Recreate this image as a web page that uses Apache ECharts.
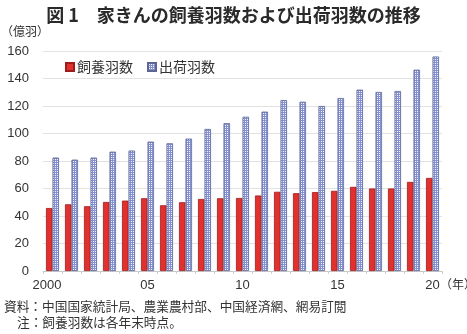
<!DOCTYPE html>
<html>
<head>
<meta charset="utf-8">
<script src="https://cdn.jsdelivr.net/npm/echarts@6/dist/echarts.min.js"></script>
<style>
  html, body { margin: 0; padding: 0; background: #fff; }
  #chart { width: 467px; height: 334px; }
</style>
</head>
<body>
<div id="chart"></div>
<script>
// Poultry: head kept (year-end stock) and head shipped, 100 million birds
const years = ['2000','2001','2002','2003','2004','2005','2006','2007','2008','2009',
               '2010','2011','2012','2013','2014','2015','2016','2017','2018','2019','2020'];
const stockHead = [45.8, 48.5, 47.1, 50.2, 51.2, 52.9, 47.8, 50.0, 52.4, 52.9,
                   53.1, 54.9, 57.6, 56.6, 57.4, 58.3, 61.2, 60.0, 60.0, 64.8, 67.7];
const shippedHead = [82.5, 81.0, 82.5, 86.8, 87.6, 94.1, 92.9, 96.3, 103.3, 107.5,
                     112.2, 115.9, 124.3, 123.1, 120.0, 125.8, 131.9, 130.2, 130.9, 146.4, 156.0];
const xTickLabels = { '2000': '2000', '2005': '05', '2010': '10', '2015': '15', '2020': '20' };

const jpFont = '"Noto Sans CJK JP", sans-serif';
const numFont = '"Liberation Sans", Arial, sans-serif';
const textColor = '#333';

// fine blue check texture for the shipment bars
const tile = document.createElement('canvas');
tile.width = 2; tile.height = 2;
const tctx = tile.getContext('2d');
tctx.fillStyle = '#f4f5fc';
tctx.fillRect(0, 0, 2, 2);
tctx.fillStyle = '#8390d2';
tctx.fillRect(0, 0, 2, 1);
tctx.fillRect(0, 0, 1, 2);

const chart = echarts.init(document.getElementById('chart'), null, { renderer: 'canvas' });
chart.setOption({
  animation: false,
  backgroundColor: '#fff',
  title: {
    text: '図 1　家きんの飼養羽数および出荷羽数の推移',
    left: 'center',
    top: 1,
    textStyle: { fontFamily: jpFont, fontSize: 18, fontWeight: 'bold', color: '#2a2a2a' }
  },
  legend: {
    left: 60,
    top: 55,
    itemWidth: 8,
    itemHeight: 8,
    itemGap: 14,
    icon: 'rect',
    textStyle: { fontFamily: jpFont, fontSize: 14, color: textColor, padding: [0, 0, 0, -2] },
    data: ['飼養羽数', '出荷羽数']
  },
  grid: { left: 43, right: 25, top: 51, bottom: 63 },
  xAxis: {
    type: 'category',
    data: years,
    axisLine: { lineStyle: { color: '#c8c8c8', width: 1 } },
    axisTick: { show: true, length: 3, lineStyle: { color: '#d0d0d0' } },
    axisLabel: {
      interval: 0,
      margin: 8,
      fontFamily: numFont,
      fontSize: 13,
      color: textColor,
      formatter: v => v === '2000' ? '{first|2000}' : (xTickLabels[v] || ''),
      rich: {
        first: { fontFamily: numFont, fontSize: 13, color: textColor, padding: [0, 11, 0, 0] }
      }
    }
  },
  yAxis: {
    type: 'value',
    min: 0,
    max: 160,
    interval: 20,
    axisLine: { show: false },
    axisTick: { show: false },
    splitLine: { lineStyle: { color: '#e2e2e2', width: 1 } },
    axisLabel: { margin: 14, fontFamily: numFont, fontSize: 13, color: textColor }
  },
  series: [
    {
      name: '飼養羽数',
      type: 'bar',
      data: stockHead,
      barWidth: 6.5,
      barGap: '0%',
      itemStyle: { color: '#e0312f', borderColor: '#9e1c1c', borderWidth: 0.8 }
    },
    {
      name: '出荷羽数',
      type: 'bar',
      data: shippedHead,
      barWidth: 6.5,
      barGap: '0%',
      itemStyle: { color: { image: tile, repeat: 'repeat' }, borderColor: '#5d6693', borderWidth: 0.8 }
    }
  ],
  graphic: [
    { type: 'text', left: 1, top: 25,
      style: { text: '（億羽）', font: '12px ' + jpFont, fill: textColor } },
    { type: 'text', left: 440, top: 278,
      style: { text: '（年）', font: '12px ' + jpFont, fill: textColor } },
    { type: 'text', left: 4, top: 300,
      style: { text: '資料：中国国家統計局、農業農村部、中国経済網、網易訂閲', font: '12.7px ' + jpFont, fill: textColor } },
    { type: 'text', left: 17, top: 316,
      style: { text: '注：飼養羽数は各年末時点。', font: '12.7px ' + jpFont, fill: textColor } }
  ]
});
</script>
</body>
</html>
